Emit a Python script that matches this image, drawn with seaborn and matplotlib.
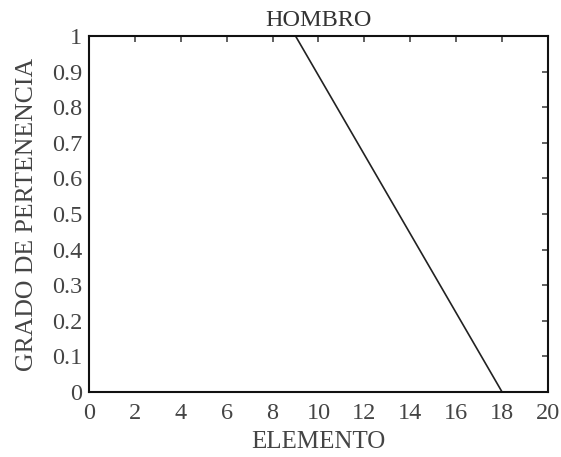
import matplotlib
matplotlib.use("Agg")
import matplotlib.pyplot as plt
import seaborn as sns
import pandas as pd

# Shoulder membership function
elemento = [0, 9, 18, 20]
grado = [1, 1, 0, 0]
x_ticks = [0, 2, 4, 6, 8, 10, 12, 14, 16, 18, 20]
y_ticks = [0, 0.1, 0.2, 0.3, 0.4, 0.5, 0.6, 0.7, 0.8, 0.9, 1]
y_labels = ["0", "0.1", "0.2", "0.3", "0.4", "0.5", "0.6", "0.7", "0.8", "0.9", "1"]

sns.set_theme(style="white")
plt.rcParams["font.family"] = ["Liberation Serif", "DejaVu Serif"]

df = pd.DataFrame({"ELEMENTO": elemento, "GRADO": grado})

fig = plt.figure(figsize=(5.61, 4.57), dpi=100)
ax = fig.add_axes([0.1586, 0.1422, 0.8182, 0.7790])
sns.lineplot(data=df, x="ELEMENTO", y="GRADO", ax=ax, color="#222222",
             linewidth=1.2, estimator=None, sort=False)

ax.set_xlim(0, 20)
ax.set_ylim(0, 1)
ax.set_xticks(x_ticks)
ax.set_xticklabels([str(t) for t in x_ticks])
ax.set_yticks(y_ticks)
ax.set_yticklabels(y_labels)
ax.tick_params(direction="in", length=4, width=1.2, top=True, right=True,
               labelsize=17.5, colors="#444444", pad=5)
ax.tick_params(axis="x", pad=8)
for s in ax.spines.values():
    s.set_color("#111111")
    s.set_linewidth(1.5)

ax.set_title("HOMBRO", fontsize=17.5, color="#333333", pad=7)
ax.set_xlabel("ELEMENTO", fontsize=18, color="#444444", labelpad=5)
ax.set_ylabel("GRADO DE PERTENENCIA", fontsize=18.5, color="#444444", labelpad=10)

fig.savefig("out.png", dpi=100)
